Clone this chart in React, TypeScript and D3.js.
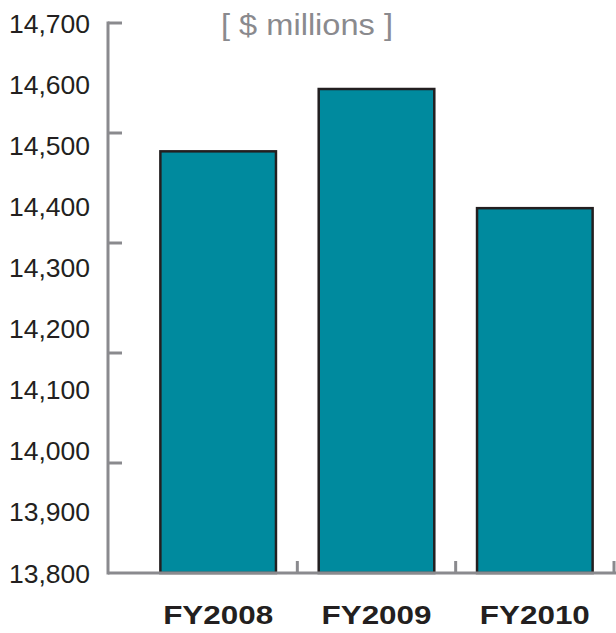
import React, { useRef, useEffect } from "react";
import * as d3 from "d3";

const categories = ["FY2008", "FY2009", "FY2010"];
const values = [14490, 14592, 14397];
const yLabels = [13800, 13900, 14000, 14100, 14200, 14300, 14400, 14500, 14600, 14700];
const yTickMarks = [13980, 14160, 14340, 14520, 14700];
const unitsLabel = "[ $ millions ]";

const width = 616;
const height = 633;
const axisGray = "#8a8a8e";

export default function App() {
  const ref = useRef<SVGSVGElement>(null);

  useEffect(() => {
    const svg = d3.select(ref.current);
    svg.selectChildren().remove();

    const x = d3
      .scaleBand<string>()
      .domain(categories)
      .range([139, 614])
      .paddingInner(0.27)
      .paddingOuter(0.135);
    const y = d3.scaleLinear().domain([13800, 14700]).range([573, 23]);

    // Barras
    svg
      .append("g")
      .selectAll("rect")
      .data(values)
      .enter()
      .append("rect")
      .attr("x", (d, i) => x(categories[i])!)
      .attr("y", (d) => y(d))
      .attr("width", x.bandwidth())
      .attr("height", (d) => y(13800) - y(d))
      .attr("fill", "#008a9e")
      .attr("stroke", "#231f20")
      .attr("stroke-width", 2.5);

    // Eje Y
    const axis = svg.append("g").attr("stroke", axisGray).attr("stroke-width", 3).attr("fill", "none");
    axis
      .append("line")
      .attr("x1", 108)
      .attr("x2", 108)
      .attr("y1", y(14700) - 1.5)
      .attr("y2", y(13800) + 1.5);
    axis
      .selectAll("line.ytick")
      .data(yTickMarks)
      .enter()
      .append("line")
      .attr("class", "ytick")
      .attr("x1", 108)
      .attr("x2", 122)
      .attr("y1", (d) => y(d))
      .attr("y2", (d) => y(d));

    // Eje X
    axis
      .append("line")
      .attr("x1", 108)
      .attr("x2", 616)
      .attr("y1", y(13800))
      .attr("y2", y(13800));
    const step = x.step();
    axis
      .selectAll("line.xtick")
      .data(categories)
      .enter()
      .append("line")
      .attr("class", "xtick")
      .attr("x1", (d) => x(d)! + x.bandwidth() / 2 + step / 2)
      .attr("x2", (d) => x(d)! + x.bandwidth() / 2 + step / 2)
      .attr("y1", y(13800))
      .attr("y2", y(13800) - 12);

    // Etiquetas eje Y
    svg
      .append("g")
      .selectAll("text")
      .data(yLabels)
      .enter()
      .append("text")
      .attr("x", 90)
      .attr("y", (d, i) => y(13800) - (i * (y(13800) - y(14700))) / (yLabels.length - 1) + 9.5)
      .attr("text-anchor", "end")
      .attr("font-family", "Liberation Sans, Arial, sans-serif")
      .attr("font-size", 26.5)
      .attr("fill", "#231f20")
      .text((d) => d3.format(",")(d));

    // Etiquetas categorías
    svg
      .append("g")
      .selectAll("text")
      .data(categories)
      .enter()
      .append("text")
      .attr("x", (d) => x(d)! + x.bandwidth() / 2)
      .attr("y", 624)
      .attr("text-anchor", "middle")
      .attr("font-family", "Liberation Sans, Arial, sans-serif")
      .attr("font-weight", "bold")
      .attr("font-size", 26)
      .attr("fill", "#231f20")
      .attr("textLength", 110)
      .attr("lengthAdjust", "spacingAndGlyphs")
      .text((d) => d);

    // Unidades
    svg
      .append("text")
      .attr("x", 221)
      .attr("y", 35)
      .attr("font-family", "Liberation Sans, Arial, sans-serif")
      .attr("font-size", 29)
      .attr("fill", axisGray)
      .attr("textLength", 172)
      .attr("lengthAdjust", "spacingAndGlyphs")
      .text(unitsLabel);
  }, []);

  return (
    <svg
      ref={ref}
      width={width}
      height={height}
      style={{ position: "absolute", left: 0, top: 0, background: "#fff" }}
    />
  );
}
